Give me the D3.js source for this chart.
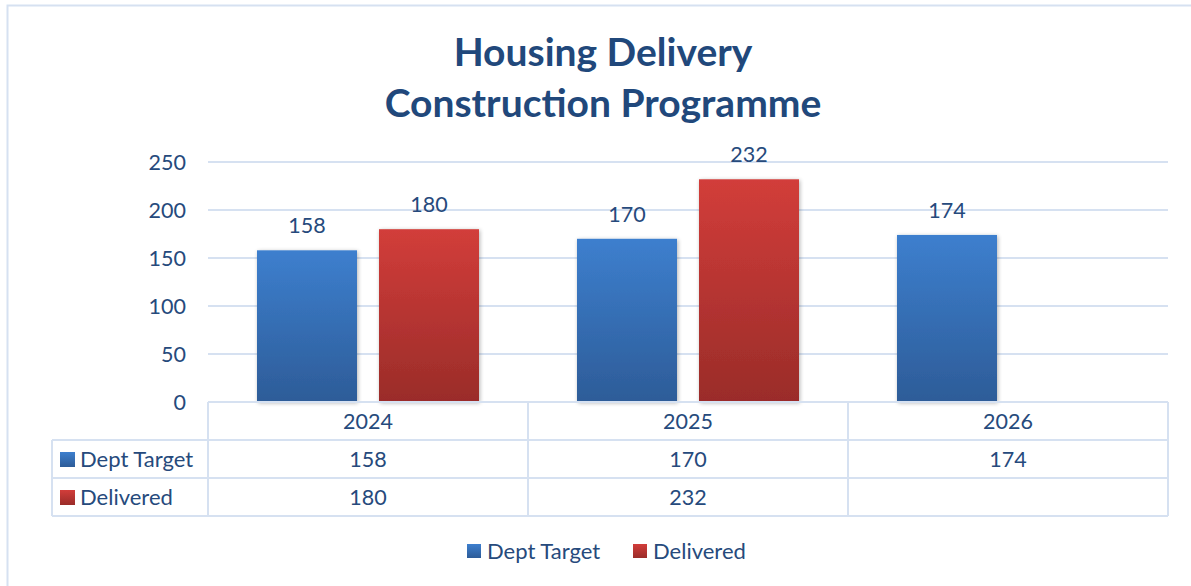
<!DOCTYPE html>
<html>
<head>
<meta charset="utf-8">
<title>Housing Delivery Construction Programme</title>
<script src="https://d3js.org/d3.v7.min.js"></script>
<style>
body { margin: 0; background: #fff; }
svg text { font-family: Lato, "Open Sans", sans-serif; fill: #264a7c; }
</style>
</head>
<body>
<svg id="chart" width="1191" height="586"></svg>
<script>
var years = ["2024", "2025", "2026"];
var seriesNames = ["Dept Target", "Delivered"];
var deptTarget = [158, 170, 174];
var delivered = [180, 232, null];
var yTicks = [0, 50, 100, 150, 200, 250];

var series = [
  { name: seriesNames[0], values: deptTarget, top: "#3d7fce", bottom: "#2d5c98", grad: "gBlue" },
  { name: seriesNames[1], values: delivered, top: "#d23d3a", bottom: "#9a2c29", grad: "gRed" }
];

var svg = d3.select("#chart");
var gridCol = "#d6e1f1";
var fs = 21.5;

// outer frame, runs off the right and bottom edges
svg.append("rect")
  .attr("x", 7.5).attr("y", 5.5)
  .attr("width", 1200).attr("height", 600)
  .attr("fill", "none").attr("stroke", gridCol).attr("stroke-width", 2);

var defs = svg.append("defs");
series.forEach(function(s) {
  var g = defs.append("linearGradient").attr("id", s.grad)
    .attr("x1", 0).attr("y1", 0).attr("x2", 0).attr("y2", 1);
  g.append("stop").attr("offset", "0%").attr("stop-color", s.top);
  g.append("stop").attr("offset", "100%").attr("stop-color", s.bottom);
});
var shadow = defs.append("filter").attr("id", "shadow")
  .attr("x", "-20%").attr("y", "-20%").attr("width", "140%").attr("height", "140%");
shadow.append("feGaussianBlur").attr("in", "SourceAlpha").attr("stdDeviation", 2).attr("result", "blur");
shadow.append("feOffset").attr("in", "blur").attr("dx", 1).attr("dy", 1).attr("result", "off");
shadow.append("feComponentTransfer").attr("in", "off").attr("result", "soft")
  .append("feFuncA").attr("type", "linear").attr("slope", 0.3);
var fm = shadow.append("feMerge");
fm.append("feMergeNode").attr("in", "soft");
fm.append("feMergeNode").attr("in", "SourceGraphic");

// title
var title = svg.append("text")
  .attr("text-anchor", "middle")
  .attr("font-size", 39).attr("font-weight", "bold")
  .style("fill", "#21487b");
title.append("tspan").attr("x", 603).attr("y", 66).text("Housing Delivery");
title.append("tspan").attr("x", 603).attr("y", 117).text("Construction Programme");

var plotLeft = 208, plotRight = 1168, plotTop = 162, base = 402;
var x = d3.scaleBand().domain(years).range([plotLeft, plotRight]);
var y = d3.scaleLinear().domain([0, 250]).range([base, plotTop]);
// two bars of 100px with a 22px gap, centred in each 320px year band
var xs = d3.scaleBand().domain(seriesNames).range([49, 271]).paddingInner(22 / 122);

// gridlines
svg.append("g").selectAll("line").data(yTicks.filter(function(d) { return d > 0; }))
  .join("line")
  .attr("x1", plotLeft).attr("x2", plotRight)
  .attr("y1", function(d) { return y(d); }).attr("y2", function(d) { return y(d); })
  .attr("stroke", gridCol).attr("stroke-width", 2);

// y axis labels
var yAxis = svg.append("g").attr("transform", "translate(" + (plotLeft - 22) + ",0)")
  .call(d3.axisLeft(y).tickValues(yTicks).tickSize(0).tickPadding(0));
yAxis.select(".domain").remove();
yAxis.selectAll("text").attr("font-size", fs).attr("font-family", null).attr("dy", "0.35em").style("fill", "#264a7c");

// bars
series.forEach(function(s) {
  var pts = years.map(function(yr, i) { return { year: yr, v: s.values[i] }; })
    .filter(function(d) { return d.v != null; });
  var bx = function(d) { return x(d.year) + xs(s.name); };
  svg.append("g").selectAll("rect").data(pts).join("rect")
    .attr("x", bx).attr("y", function(d) { return y(d.v); })
    .attr("width", xs.bandwidth())
    .attr("height", function(d) { return base - y(d.v); })
    .attr("fill", "url(#" + s.grad + ")")
    .style("filter", "url(#shadow)");
  svg.append("g").selectAll("text").data(pts).join("text")
    .attr("x", function(d) { return bx(d) + xs.bandwidth() / 2; })
    .attr("y", function(d) { return y(d.v) - 17; })
    .attr("text-anchor", "middle").attr("font-size", fs)
    .text(function(d) { return d.v; });
});

// data table
var tableLeft = 52, rowH = 38;
var tbl = svg.append("g");
var hLines = [
  { y: base, x1: plotLeft },
  { y: base + rowH, x1: tableLeft },
  { y: base + 2 * rowH, x1: tableLeft },
  { y: base + 3 * rowH, x1: tableLeft }
];
tbl.selectAll("line.h").data(hLines).join("line").attr("class", "h")
  .attr("x1", function(d) { return d.x1; }).attr("x2", plotRight)
  .attr("y1", function(d) { return d.y; }).attr("y2", function(d) { return d.y; })
  .attr("stroke", gridCol).attr("stroke-width", 2);
var vLines = [{ x: tableLeft, y1: base + rowH }].concat(
  years.map(function(yr) { return { x: x(yr), y1: base }; }),
  [{ x: plotRight, y1: base }]);
tbl.selectAll("line.v").data(vLines).join("line").attr("class", "v")
  .attr("x1", function(d) { return d.x; }).attr("x2", function(d) { return d.x; })
  .attr("y1", function(d) { return d.y1; }).attr("y2", base + 3 * rowH)
  .attr("stroke", gridCol).attr("stroke-width", 2);

tbl.selectAll("text.yr").data(years).join("text").attr("class", "yr")
  .attr("x", function(d) { return x(d) + x.bandwidth() / 2; })
  .attr("y", base + rowH / 2).attr("dy", "0.35em")
  .attr("text-anchor", "middle").attr("font-size", fs)
  .text(function(d) { return d; });

series.forEach(function(s, si) {
  var cy = base + rowH * (si + 1) + rowH / 2;
  tbl.append("rect").attr("x", 60).attr("y", cy - 7).attr("width", 15).attr("height", 15)
    .attr("fill", "url(#" + s.grad + ")");
  tbl.append("text").attr("x", 80).attr("y", cy).attr("dy", "0.35em")
    .attr("font-size", fs + 0.5).text(s.name);
  tbl.selectAll("text.v" + si).data(years).join("text").attr("class", "v" + si)
    .attr("x", function(d) { return x(d) + x.bandwidth() / 2; })
    .attr("y", cy).attr("dy", "0.35em")
    .attr("text-anchor", "middle").attr("font-size", fs)
    .text(function(d, i) { return s.values[i] == null ? "" : s.values[i]; });
});

// legend
var legX = [467, 633];
var leg = svg.append("g");
series.forEach(function(s, i) {
  leg.append("rect").attr("x", legX[i]).attr("y", 544).attr("width", 14).attr("height", 14)
    .attr("fill", "url(#" + s.grad + ")");
  leg.append("text").attr("x", legX[i] + 20).attr("y", 551).attr("dy", "0.35em")
    .attr("font-size", fs + 0.5).text(s.name);
});
</script>
</body>
</html>
